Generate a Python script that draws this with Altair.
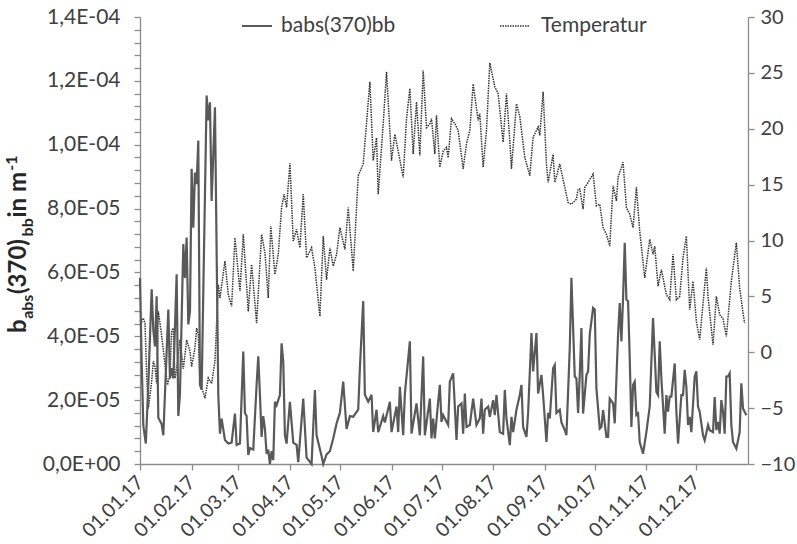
import altair as alt
import pandas as pd
import numpy as np

# ---------------- data ----------------
# day offset from 01.01.2017 and babs(370)bb in units of 1E-05 m^-1
babs_days = [0, 1, 2, 3.5, 5, 7, 8, 9, 10, 11, 13, 14, 17, 18, 19, 20, 22, 23, 24, 26, 27, 28, 29, 30,
             31, 32, 33, 34, 35, 36, 37, 39, 40, 41, 42, 43, 45, 47, 48, 49, 51, 53, 55, 57, 58, 60,
             62, 63, 64, 65, 66, 68, 70, 71, 72, 73, 74, 75, 76, 77, 78, 79, 80, 81, 82, 84, 85, 86,
             87, 88, 90, 92, 94, 95, 98, 100, 103, 105, 106, 109, 110, 112, 114, 116, 118, 120, 122,
             124, 126, 128, 131, 132, 134, 135, 137, 139, 140, 142, 143, 146, 147, 150, 151, 154, 155,
             156, 158, 159, 162, 163, 166, 168, 170, 171, 174, 175, 176, 177, 179, 180, 181, 182, 185,
             186, 188, 190, 191, 193, 194, 195, 196, 198, 200, 202, 204, 205, 206, 207, 209, 210, 212,
             213, 214, 216, 218, 219, 220, 222, 223, 224, 226, 228, 229, 230, 232, 233, 235, 236, 238,
             239, 241, 242, 244, 245, 246, 248, 249, 250, 252, 253, 255, 256, 258, 259, 261, 262, 263,
             264, 265, 266, 268, 269, 270, 272, 273, 274, 276, 277, 278, 280, 281, 282, 284, 285, 287,
             288, 289, 290, 291, 292, 293, 294, 295, 296, 297, 298, 299, 300, 302, 304, 306, 307, 308,
             309, 310, 311, 312, 313, 315, 316, 317, 318, 319, 321, 322, 323, 325, 326, 327, 328, 329,
             330, 331, 333, 334, 335, 336, 338, 339, 341, 342, 344, 345, 346, 347, 348, 349, 350, 351,
             352, 353, 354, 355, 356, 358, 360, 361, 362, 364]
babs_vals = [5.83, 3.2, 1.2, 0.64, 2.5, 5.47, 4.2, 3.68, 5.25, 1.45, 1.25, 0.9, 4.84, 2.68, 3.0, 2.68,
             5.94, 1.5, 2.2, 6.89, 5.83, 7.09, 4.37, 4.78, 9.25, 7.4, 9.13, 8.77, 10.13, 2.48, 2.33,
             8.45, 11.54, 10.76, 11.33, 8.24, 11.17, 2.17, 0.95, 1.42, 0.75, 0.64, 0.67, 1.58, 0.6,
             0.64, 3.52, 1.6, 1.5, 0.28, 0.5, 0.45, 2.48, 3.37, 2.17, 0.85, 1.5, 1.1, 0.32, 0.45, 0.0,
             0.4, 0.12, 1.95, 1.84, 2.17, 3.78, 3.2, 0.9, 0.64, 1.95, 0.67, 0.6, 0.06, 2.05, 0.2, 0.0,
             2.32, 0.9, 0.25, 0.0, 0.3, 0.4, 0.8, 1.27, 1.6, 2.58, 1.1, 1.5, 1.48, 1.7, 3.0, 5.1,
             2.17, 1.95, 2.17, 1.0, 1.7, 1.0, 1.5, 1.3, 1.95, 1.0, 1.8, 1.0, 2.42, 0.9, 2.2, 3.84,
             0.95, 1.9, 0.9, 3.37, 0.9, 2.05, 0.8, 1.42, 0.8, 1.95, 2.48, 1.32, 1.53, 1.22, 2.58,
             2.84, 0.75, 1.8, 1.9, 0.95, 2.21, 1.16, 1.22, 2.05, 1.22, 1.43, 2.05, 0.95, 1.7, 1.8,
             1.48, 2.0, 1.53, 2.16, 1.0, 0.95, 2.32, 1.43, 0.59, 1.48, 1.0, 1.7, 2.16, 2.48, 1.16,
             0.85, 1.6, 4.1, 2.9, 4.1, 2.21, 2.79, 2.16, 0.69, 1.6, 1.43, 3.0, 3.1, 1.6, 1.7, 1.3,
             1.06, 0.9, 3.63, 5.83, 2.74, 2.68, 1.6, 2.79, 4.26, 1.58, 2.79, 2.9, 4.05, 4.89, 4.84,
             2.37, 1.11, 1.16, 1.69, 0.85, 0.85, 2.05, 1.9, 1.27, 4.05, 5.04, 3.84, 5.2, 6.93, 5.15,
             5.1, 3.31, 1.16, 2.48, 2.58, 1.53, 1.58, 0.69, 0.32, 1.0, 1.8, 3.2, 4.57, 3.42, 2.26,
             2.16, 3.84, 2.68, 0.95, 2.16, 1.64, 2.11, 2.11, 3.15, 1.64, 0.64, 2.16, 2.16, 2.95,
             2.42, 1.22, 1.48, 1.0, 2.74, 2.9, 1.8, 1.64, 0.9, 0.74, 1.22, 1.06, 1.0, 2.1, 1.06,
             1.32, 0.95, 2.0, 1.64, 0.95, 2.74, 2.74, 2.84, 1.22, 0.69, 0.48, 1.0, 2.53, 1.74, 1.53]

# day offset from 01.01.2017 and temperature in degC
temp_days = [0, 1, 2, 3, 4, 5, 7, 8, 9, 10, 11, 13, 15, 16.5, 18, 19, 20, 21, 22, 24, 26, 28, 30, 31,
             33, 34, 35, 36, 38, 39, 41, 43, 45, 47, 48, 51, 53, 55, 57, 60, 62, 65, 67, 70, 73, 75,
             77, 78.5, 81, 83, 85, 86.5, 88, 90, 92, 94, 96, 98, 100, 103, 105, 108, 110, 112, 114,
             116, 118, 120, 123, 125, 128, 131, 134, 138, 140, 142, 143, 146, 148, 151, 153, 155,
             158, 160, 162, 164, 166, 168, 170, 172, 174, 175, 177, 178, 180, 182, 184, 185, 187,
             189, 191, 194, 196, 198, 200, 203, 204, 206, 208, 210, 213, 215, 218, 220, 222, 223,
             226, 228, 231, 234, 236, 239, 240, 242, 244, 245, 248, 249, 252, 255, 257, 259, 262,
             263, 264, 266, 267, 269, 272, 274, 276, 278, 280, 282, 284, 286, 287, 290, 292, 294,
             296, 298, 300, 303, 306, 308, 309, 311, 313, 316, 318, 320, 322, 324, 326, 328, 330,
             332, 334, 336, 340, 341, 344, 346, 348, 350, 352, 355, 358, 360, 362, 363]
temp_vals = [2.9, 2.7, 3.06, 2.6, -2.0, -5.03, -2.63, -0.8, -1.3, -2.8, 3.66, 1.5, -1.13, -2.93, -2.03,
             1.87, 2.16, -2.33, -1.5, 1.12, -1.5, 1.1, 0.1, -1.3, 0.4, 2.16, 1.6, -2.8, -3.6, -4.13,
             -2.3, -2.8, -0.8, 6.06, 4.86, 8.16, 5.16, 4.11, 10.25, 5.46, 10.55, 3.66, 7.86, 2.61,
             10.55, 8.9, 4.86, 11.3, 6.96, 8.76, 12.95, 14.15, 12.95, 16.9, 9.96, 11.0, 9.35, 14.15,
             8.45, 9.35, 7.56, 3.21, 10.4, 6.5, 9.35, 7.7, 8.76, 11.15, 9.2, 12.95, 7.26, 15.8,
             16.85, 24.2, 17.15, 19.2, 14.15, 20.45, 25.1, 17.15, 19.5, 18.0, 15.65, 20.9, 23.6,
             17.75, 22.4, 17.6, 25.2, 20.1, 20.45, 20.9, 17.75, 21.2, 16.55, 18.0, 18.35, 17.4,
             20.9, 20.45, 19.85, 16.4, 18.66, 19.85, 24.0, 20.75, 21.35, 16.55, 19.85, 25.9, 23.75,
             23.15, 18.8, 23.15, 18.96, 16.4, 22.24, 21.1, 17.45, 15.8, 19.25, 20.15, 19.4, 23.3,
             16.85, 15.2, 17.7, 15.2, 16.85, 14.75, 13.4, 13.25, 13.7, 14.6, 14.6, 12.8, 14.75,
             15.2, 15.95, 13.1, 13.25, 11.15, 10.55, 9.5, 14.9, 13.55, 15.65, 17.0, 12.95, 12.35,
             11.15, 14.75, 10.85, 6.66, 10.1, 8.76, 9.5, 5.9, 7.4, 5.16, 4.7, 8.76, 4.7, 5.0, 8.45,
             10.4, 3.8, 6.36, 2.76, 1.12, 7.56, 5.0, 0.67, 5.0, 3.36, 3.0, 1.42, 6.36, 9.8, 5.76,
             3.51, 2.6]

left_ticks = [round(i * 4e-6, 10) for i in range(36)]
right_ticks = [-10, -5, 0, 5, 10, 15, 20, 25, 30]
legend_labels = ["babs(370)bb", "Temperatur"]

# ---------------- tables ----------------
start = pd.Timestamp("2017-01-01")
babs_df = pd.DataFrame({
    "date": (start + pd.to_timedelta(babs_days, unit="D")).strftime("%Y-%m-%dT%H:%M:%S"),
    "babs": np.array(babs_vals) * 1e-5,
})
temp_df = pd.DataFrame({
    "date": (start + pd.to_timedelta(temp_days, unit="D")).strftime("%Y-%m-%dT%H:%M:%S"),
    "temp": temp_vals,
})

FONT = "Lato"
AXIS_GREY = "#8c8c8c"
LABEL_COL = "#404040"
FS = 21
DOT = [1.5, 1.0]

x_scale = alt.Scale(domain=[alt.DateTime(year=2017, month=1, date=1),
                            alt.DateTime(year=2018, month=1, date=1)], nice=False)
x_axis = alt.Axis(
    values=[alt.DateTime(year=2017, month=m, date=1) for m in range(1, 13)],
    format="%d.%m.%y", labelAngle=-45, labelAlign="right", labelBaseline="middle",
    labelPadding=9, tickSize=6, title=None, grid=False, labelOverlap=False, labelFontSize=19.5,
)

left_expr = (
    "datum.value < 1e-9 ? '0,0E+00' : (round(datum.value / 4e-6) % 5 != 0 ? '' : "
    "(datum.value < 9.5e-5 ? replace(format(datum.value * 1e5, '.1f'), '.', ',') + 'E-05' : "
    "replace(format(datum.value * 1e4, '.1f'), '.', ',') + 'E-04'))"
)

temp_line = alt.Chart(temp_df).mark_line(
    color="#333333", strokeWidth=1.5, strokeDash=DOT
).encode(
    x=alt.X("date:T", scale=x_scale, axis=x_axis),
    y=alt.Y("temp:Q", scale=alt.Scale(domain=[-10, 30], nice=False, zero=False),
            axis=alt.Axis(orient="right", values=right_ticks, title=None, grid=False,
                          tickSize=6, labelPadding=6, labelFontSize=20)),
)

babs_line = alt.Chart(babs_df).mark_line(
    color="#595959", strokeWidth=2.2
).encode(
    x=alt.X("date:T", scale=x_scale, axis=x_axis),
    y=alt.Y("babs:Q", scale=alt.Scale(domain=[0, 1.4e-4], nice=False, zero=False),
            axis=alt.Axis(orient="left", values=left_ticks, labelExpr=left_expr, title=None,
                          grid=False, tickSize=6, labelPadding=14)),
)

one = alt.Data(values=[{}])

# legend (top, inside)
leg_solid = alt.Chart(one).mark_rule(color="#595959", strokeWidth=2).encode(
    x=alt.value(102), x2=alt.value(132), y=alt.value(9))
leg_dot = alt.Chart(one).mark_rule(color="#333333", strokeWidth=1.5, strokeDash=DOT).encode(
    x=alt.value(360), x2=alt.value(390), y=alt.value(9))
leg_t1 = alt.Chart(one).mark_text(text=legend_labels[0], font=FONT, fontSize=FS, color=LABEL_COL,
                                  align="left", baseline="middle").encode(
    x=alt.value(141), y=alt.value(9))
leg_t2 = alt.Chart(one).mark_text(text=legend_labels[1], font=FONT, fontSize=FS, color=LABEL_COL,
                                  align="left", baseline="middle").encode(
    x=alt.value(401), y=alt.value(9))

# y title with sub/superscripts, built from rotated pieces
W = {"b": .59, "a": .53, "s": .43, "(": .33, ")": .33, "3": .58, "7": .58, "0": .58,
     " ": .20, "i": .26, "n": .57, "m": .72, "-": .34, "1": .58}
MAIN, SUB = 24, 16
pieces = [("b", MAIN, 0), ("abs", SUB, 7), ("(370)", MAIN, 0), ("bb", SUB, 7),
          (" in m", MAIN, 0), ("-1", SUB, -9)]
title_layers = []
ypos = 316.0
for txt, size, shift in pieces:
    title_layers.append(
        alt.Chart(one).mark_text(text=txt, font=FONT, fontSize=size, fontWeight="bold",
                                 color="#262626", angle=270, align="left",
                                 baseline="alphabetic").encode(
            x=alt.value(-114 + shift), y=alt.value(ypos))
    )
    ypos -= sum(W[c] for c in txt) * size

chart = alt.layer(temp_line, babs_line, leg_solid, leg_dot, leg_t1, leg_t2, *title_layers).resolve_scale(
    y="independent"
).properties(
    width=608, height=447,
    padding={"left": 140, "top": 17, "right": 49, "bottom": 80},
    autosize=alt.AutoSizeParams(type="none"),
).configure_view(stroke=None).configure_axis(
    labelFont=FONT, labelFontSize=FS, labelColor=LABEL_COL,
    domainColor=AXIS_GREY, tickColor=AXIS_GREY, domainWidth=1.3, tickWidth=1.3,
)

chart.save("out.html", embed_options={"renderer": "svg", "actions": False})
